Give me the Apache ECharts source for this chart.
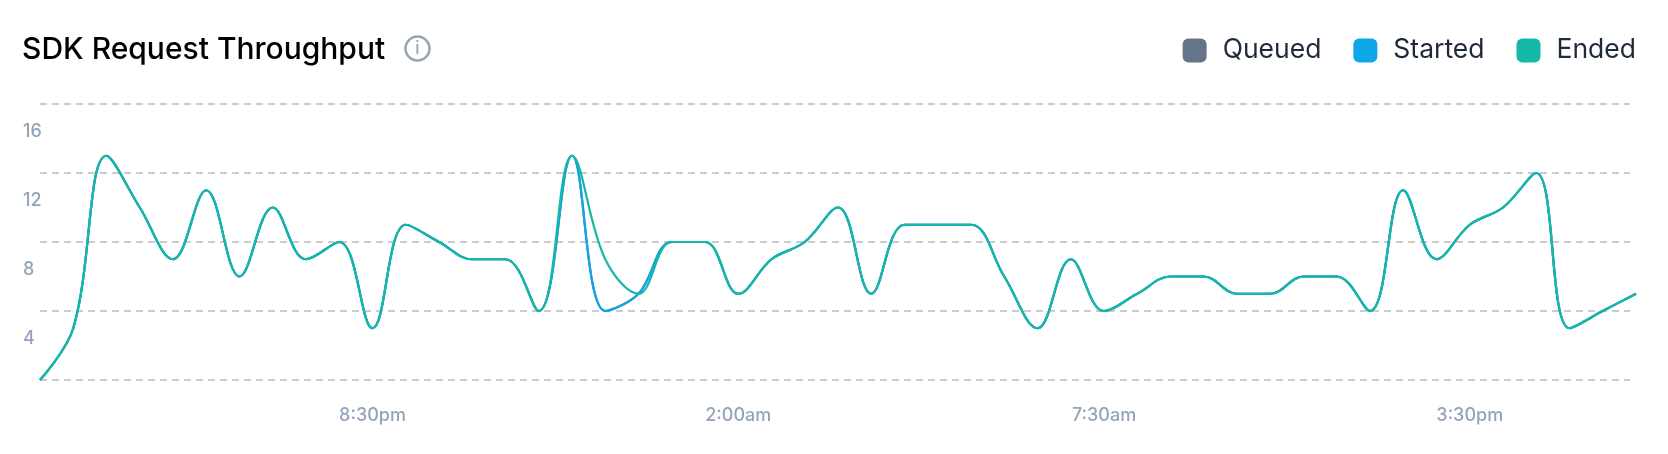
<!DOCTYPE html>
<html><head><meta charset="utf-8">
<script src="https://cdn.jsdelivr.net/npm/echarts@6/dist/echarts.min.js"></script>
<style>html,body{margin:0;padding:0;background:#fff}#c{width:1668px;height:454px}</style>
</head><body><div id="c"></div>
<script>
const times = ["3:30pm","4:00pm","4:30pm","5:00pm","5:30pm","6:00pm","6:30pm","7:00pm","7:30pm","8:00pm","8:30pm","9:00pm","9:30pm","10:00pm","10:30pm","11:00pm","11:30pm","12:00am","12:30am","1:00am","1:30am","2:00am","2:30am","3:00am","3:30am","4:00am","4:30am","5:00am","5:30am","6:00am","6:30am","7:00am","7:30am","8:00am","8:30am","9:00am","9:30am","10:00am","10:30am","11:00am","11:30am","12:00pm","2:00pm","3:30pm","4:00pm","4:30pm","5:00pm","5:30pm","6:00pm"];
const tickIndexes = [10,21,32,43];
const seriesNames = ["Queued","Started","Ended"];
const ended = [0,3,13,10,7,11,6,10,7,8,3,9,8,7,7,4,13,7,5,8,8,5,7,8,10,5,9,9,9,6,3,7,4,5,6,6,5,5,6,6,4,11,7,9,10,12,3,4,5];
const started = [0,3,13,10,7,11,6,10,7,8,3,9,8,7,7,4,13,4,5,8,8,5,7,8,10,5,9,9,9,6,3,7,4,5,6,6,5,5,6,6,4,11,7,9,10,12,3,4,5];
const queued = started.slice();
const colors = ["#64748b","#0ea5e9","#14b8a6"];
const values = [queued, started, ended];
const chart = echarts.init(document.getElementById('c'));
chart.setOption({
  animation:false,
  title:{text:"SDK Request Throughput",left:17,top:30,textStyle:{fontFamily:"Inter",fontSize:30,fontWeight:500,color:"#000"}},
  legend:{right:27,top:32,icon:"roundRect",itemWidth:24,itemHeight:24,itemGap:32,
    data:seriesNames,
    textStyle:{fontFamily:"Inter",fontSize:26.5,color:"#1e293b",padding:[0,0,0,11]}},
  grid:[{left:40,right:32,top:104,bottom:74},{left:40,right:38,top:104,bottom:74}],
  xAxis:[{type:"category",gridIndex:0,boundaryGap:false,data:times,
    axisLine:{show:false},axisTick:{show:false},
    axisLabel:{interval:(i)=>tickIndexes.includes(i),color:"#94a3b8",fontFamily:"Inter",fontSize:18,fontWeight:500,margin:27}},
    {type:"category",gridIndex:1,show:false,data:times}],
  yAxis:[{type:"value",gridIndex:0,min:0,max:16,interval:4,
    axisLine:{show:false},axisTick:{show:false},splitLine:{show:false},
    axisLabel:{formatter:(v)=>v===0?"":String(v),color:"#94a3b8",fontFamily:"Inter",fontSize:18,fontWeight:500,align:"left",verticalAlign:"top",lineHeight:56,margin:17}},
    {type:"value",gridIndex:1,min:0,max:16,interval:4,
    axisLine:{show:false},axisTick:{show:false},axisLabel:{show:false},
    splitLine:{lineStyle:{color:"#cccccc",type:[7,5],width:2}}}],
  series:seriesNames.map((n,i)=>({name:n,type:"line",xAxisIndex:0,yAxisIndex:0,data:values[i],smooth:0.38,
    showSymbol:false,symbol:"none",clip:false,color:colors[i],lineStyle:{color:colors[i],width:2.2}})),
  graphic:[{type:"group",left:403,top:34,children:[
    {type:"circle",shape:{cx:13,cy:13,r:12},style:{fill:"none",stroke:"#94a3b8",lineWidth:2.5}},
    {type:"text",style:{text:"i",x:13,y:13,align:"center",verticalAlign:"middle",fill:"#94a3b8",font:"500 17px Inter"}}
  ]}]
});
</script></body></html>
